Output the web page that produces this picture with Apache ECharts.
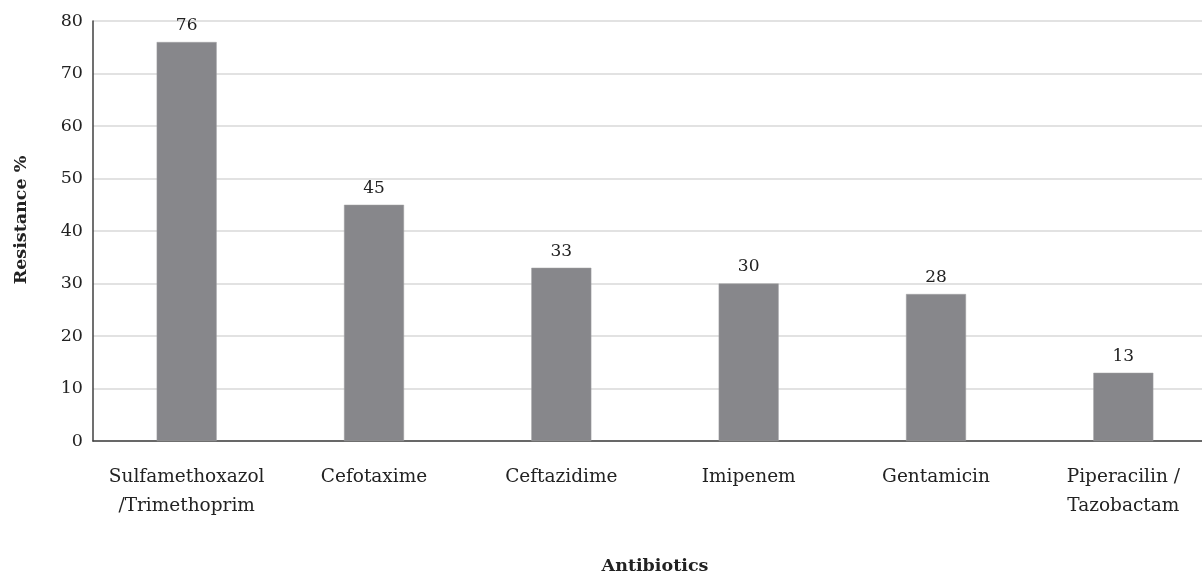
<!DOCTYPE html>
<html>
<head>
<meta charset="utf-8">
<script src="https://cdn.jsdelivr.net/npm/echarts@6/dist/echarts.min.js"></script>
<style>
  html, body { margin: 0; padding: 0; background: #ffffff; }
  #chart { width: 1202px; height: 574px; }
</style>
</head>
<body>
<div id="chart"></div>
<script>
// Antibiotic resistance rates (%)
const antibiotics = [
  'Sulfamethoxazol\n/Trimethoprim',
  'Cefotaxime',
  'Ceftazidime',
  'Imipenem',
  'Gentamicin',
  'Piperacilin /\nTazobactam'
];
const resistance = [76, 45, 33, 30, 28, 13];
const yTicks = { min: 0, max: 80, interval: 10 };

const FONT = '"DejaVu Serif", serif';

const chart = echarts.init(document.getElementById('chart'), null, { renderer: 'canvas' });
chart.setOption({
  animation: false,
  backgroundColor: '#ffffff',
  grid: { left: 93, top: 21, width: 1124, height: 420, containLabel: false, outerBoundsMode: 'none' },
  xAxis: {
    type: 'category',
    data: antibiotics,
    name: 'Antibiotics',
    nameLocation: 'middle',
    nameGap: 116,
    nameTextStyle: { fontFamily: FONT, fontWeight: 'bold', fontSize: 17.5, color: '#222' },
    axisLine: { lineStyle: { color: '#404040', width: 1.5 } },
    axisTick: { show: false },
    axisLabel: {
      interval: 0,
      margin: 22,
      fontFamily: FONT,
      fontSize: 18.5,
      lineHeight: 29,
      color: '#222'
    }
  },
  yAxis: {
    type: 'value',
    min: yTicks.min,
    max: yTicks.max,
    interval: yTicks.interval,
    name: 'Resistance %',
    nameLocation: 'middle',
    nameGap: 63,
    nameTextStyle: {
      fontFamily: FONT, fontWeight: 'bold', fontSize: 17.5, color: '#222',
      padding: [0, 0, 0, 22]
    },
    axisLine: { show: true, lineStyle: { color: '#404040', width: 1.5 } },
    axisTick: { show: false },
    axisLabel: { margin: 10, fontFamily: FONT, fontSize: 17.5, color: '#222' },
    splitLine: { lineStyle: { color: '#d9d9d9', width: 1.5 } }
  },
  series: [{
    type: 'bar',
    data: resistance,
    barWidth: 60,
    itemStyle: { color: '#87878b', borderColor: '#a0a0a3', borderWidth: 0.5 },
    label: {
      show: true,
      position: 'top',
      distance: 8,
      fontFamily: FONT,
      fontSize: 17,
      color: '#222'
    }
  }]
});
</script>
</body>
</html>
